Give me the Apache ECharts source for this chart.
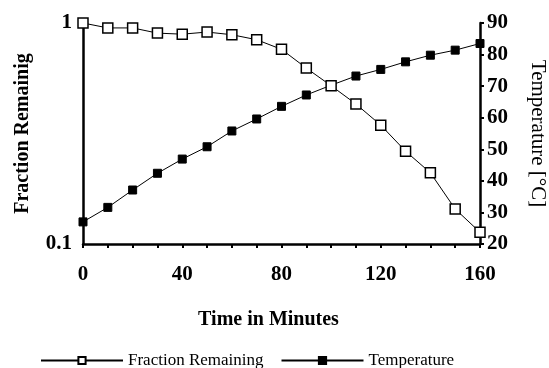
<!DOCTYPE html>
<html>
<head>
<meta charset="utf-8">
<script src="https://cdn.jsdelivr.net/npm/echarts@6/dist/echarts.min.js"></script>
<style>
  html, body { margin: 0; padding: 0; background: #fff; }
  #view { width: 549px; height: 368px; }
</style>
</head>
<body>
<div id="view"></div>
<script>
var minutes = [0, 10, 20, 30, 40, 50, 60, 70, 80, 90, 100, 110, 120, 130, 140, 150, 160]
var fractionRemaining = [1.0, 0.95, 0.95, 0.9, 0.89, 0.91, 0.885, 0.84, 0.76, 0.625, 0.52, 0.43, 0.345, 0.263, 0.21, 0.144, 0.113]
var temperature = [27, 31.6, 37.1, 42.4, 46.9, 50.8, 55.8, 59.6, 63.6, 67.2, 70.3, 73.2, 75.3, 77.7, 79.8, 81.4, 83.5]

function pairs (ys) {
    var out = []
    for (let i = 0; i < minutes.length; i++) {
        out.push([minutes[i], ys[i]])
    }
    return out
}

var font = 'Liberation Serif'
var mychart = echarts.init(document.getElementById('view'))
var options = {
    animation: false,
    textStyle: { fontFamily: font, color: '#000' },
    grid: { left: 83, right: 69, top: 23, bottom: 124, outerBoundsMode: 'none', containLabel: false },
    legend: {
        left: 35,
        top: 347,
        itemWidth: 82,
        itemHeight: 9,
        itemGap: 17,
        textStyle: { fontFamily: font, fontSize: 17, color: '#000' },
        data: ['Fraction Remaining', 'Temperature']
    },
    xAxis: {
        type: 'value',
        min: 0,
        max: 160,
        interval: 40,
        name: 'Time in Minutes',
        nameLocation: 'middle',
        nameGap: 66,
        nameTextStyle: { fontFamily: font, fontSize: 20, fontWeight: 'bold', color: '#000', padding: [0, 26, 0, 0] },
        axisLine: { lineStyle: { color: '#000', width: 2.5 } },
        axisTick: { length: 4, lineStyle: { color: '#000', width: 2 } },
        minorTick: { show: true, splitNumber: 4, length: 4, lineStyle: { color: '#000', width: 2 } },
        axisLabel: { fontFamily: font, fontSize: 21, fontWeight: 'bold', color: '#000', margin: 20 },
        splitLine: { show: false }
    },
    yAxis: [{
        type: 'log',
        logBase: 10,
        min: 0.1,
        max: 1,
        position: 'left',
        name: 'Fraction Remainig',
        nameLocation: 'middle',
        nameGap: 50,
        nameTextStyle: { fontFamily: font, fontSize: 20, fontWeight: 'bold', color: '#000' },
        axisLine: { show: true, lineStyle: { color: '#000', width: 2.5 } },
        axisTick: { show: false },
        axisLabel: { fontFamily: font, fontSize: 21, fontWeight: 'bold', color: '#000', margin: 11 },
        splitLine: { show: false }
    }, {
        type: 'value',
        min: 20,
        max: 90,
        interval: 10,
        position: 'right',
        name: 'Temperature [°C]',
        nameLocation: 'middle',
        nameGap: 47,
        nameRotate: -90,
        nameTextStyle: { fontFamily: font, fontSize: 21, color: '#000' },
        axisLine: { show: true, lineStyle: { color: '#000', width: 2.5 } },
        axisTick: { length: 4, lineStyle: { color: '#000', width: 2 } },
        axisLabel: { fontFamily: font, fontSize: 21, fontWeight: 'bold', color: '#000', margin: 7 },
        splitLine: { show: false }
    }],
    series: [{
        name: 'Fraction Remaining',
        type: 'line',
        yAxisIndex: 0,
        data: pairs(fractionRemaining),
        symbol: 'rect',
        symbolSize: 10,
        lineStyle: { color: '#000', width: 1 },
        itemStyle: { color: '#fff', borderColor: '#000', borderWidth: 1.5 },
        z: 3
    }, {
        name: 'Temperature',
        type: 'line',
        yAxisIndex: 1,
        data: pairs(temperature),
        symbol: 'rect',
        symbolSize: 8,
        lineStyle: { color: '#000', width: 1 },
        itemStyle: { color: '#000', borderColor: '#000', borderWidth: 1 },
        z: 2
    }]
}
mychart.setOption(options)
</script>
</body>
</html>
